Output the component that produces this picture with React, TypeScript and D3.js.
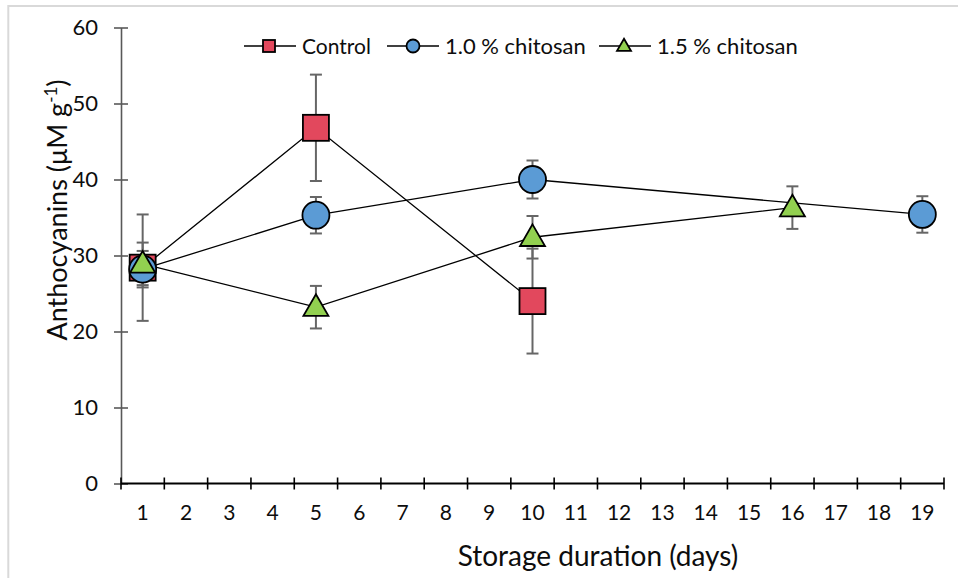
import React from "react";
import { scaleBand, scaleLinear, axisLeft, axisBottom, select, line, symbol, symbolTriangle } from "d3";

const days = ["1", "2", "3", "4", "5", "6", "7", "8", "9", "10", "11", "12", "13", "14", "15", "16", "17", "18", "19"];
const yTicks = [0, 10, 20, 30, 40, 50, 60];

const controlDays = ["1", "5", "10"];
const controlValues = [28.4, 46.8, 24.0];
const controlErrors = [7.0, 7.0, 6.9];

const chitosan10Days = ["1", "5", "10", "19"];
const chitosan10Values = [28.2, 35.3, 40.0, 35.4];
const chitosan10Errors = [2.4, 2.4, 2.5, 2.4];

const chitosan15Days = ["1", "5", "10", "16"];
const chitosan15Values = [28.9, 23.2, 32.4, 36.3];
const chitosan15Errors = [2.8, 2.8, 2.8, 2.8];

const FONT = "Lato, 'Open Sans', sans-serif";
const TEXT = "#0d0d0d";

const series = [
  { name: "Control", days: controlDays, values: controlValues, errors: controlErrors, color: "#E2485D", shape: "square" },
  { name: "1.0 % chitosan", days: chitosan10Days, values: chitosan10Values, errors: chitosan10Errors, color: "#5B9BD5", shape: "circle" },
  { name: "1.5 % chitosan", days: chitosan15Days, values: chitosan15Values, errors: chitosan15Errors, color: "#92D050", shape: "triangle" },
];

function Marker({ shape, x, y, size, color }) {
  if (shape === "square") {
    return <rect x={x - size / 2} y={y - size / 2} width={size} height={size} fill={color} stroke="#000" strokeWidth={1.8} />;
  }
  if (shape === "circle") {
    return <circle cx={x} cy={y} r={size / 2 + 0.5} fill={color} stroke="#000" strokeWidth={1.8} />;
  }
  // triangle: d3 symbol area for an equilateral-ish triangle of given width
  const area = (Math.sqrt(3) / 4) * size * size;
  const path = symbol(symbolTriangle, area)();
  return <path d={path} transform={`translate(${x}, ${y + size * 0.06})`} fill={color} stroke="#000" strokeWidth={1.8} strokeLinejoin="miter" />;
}

export default function App() {
  const width = 958;
  const height = 578;

  const x = scaleBand().domain(days).range([121, 944]).paddingInner(0).paddingOuter(0);
  const y = scaleLinear().domain([0, 60]).range([483.5, 27.5]);
  const cx = (d) => x(d) + x.bandwidth() / 2;

  const lineGen = line()
    .x((d) => cx(d[0]))
    .y((d) => y(d[1]));

  const yAxisRef = (el) => {
    if (!el) return;
    const g = select(el);
    g.call(axisLeft(y).tickValues(yTicks).tickSize(7).tickPadding(16).tickSizeOuter(0));
    g.select(".domain").attr("stroke", "#595959").attr("stroke-width", 1.6);
    g.selectAll(".tick line").attr("x1", 7).attr("x2", -7).attr("stroke", "#595959").attr("stroke-width", 1.6);
    g.selectAll(".tick text").attr("font-family", FONT).attr("font-size", 22).attr("fill", TEXT).attr("dy", "0.34em");
  };

  const xAxisRef = (el) => {
    if (!el) return;
    const g = select(el);
    g.call(axisBottom(x).tickSize(0).tickPadding(22).tickSizeOuter(0));
    g.select(".domain").remove();
    g.selectAll(".tick text").attr("font-family", FONT).attr("font-size", 21).attr("fill", TEXT);
  };

  const boundaries = days.map((d) => x(d)).concat([x(days[days.length - 1]) + x.bandwidth()]);

  const legendItems = [
    { x0: 244, x1: 296, mx: 269, tx: 302, fs: 21 },
    { x0: 387, x1: 439, mx: 413, tx: 445, fs: 22 },
    { x0: 599, x1: 651, mx: 624, tx: 657, fs: 22 },
  ];
  const legendY = 46;

  return (
    <svg width={width} height={height} style={{ position: "absolute", left: 0, top: 0, background: "#fff" }}>
      <rect x={8.3} y={6} width={1000} height={700} fill="#fff" stroke="#d9d9d9" strokeWidth={2} />

      {/* y axis */}
      <g ref={yAxisRef} transform="translate(121, 0)" />

      {/* x axis line and boundary ticks */}
      <g ref={xAxisRef} transform={`translate(0, ${y(0)})`} />
      <line x1={121} x2={boundaries[boundaries.length - 1]} y1={y(0)} y2={y(0)} stroke="#000" strokeWidth={2.2} />
      {boundaries.map((b, i) => (
        <line key={i} x1={b} x2={b} y1={y(0) - 6} y2={y(0) + 6} stroke="#000" strokeWidth={1.6} />
      ))}

      {/* series lines */}
      {series.map((s) => (
        <path key={s.name} d={lineGen(s.days.map((d, i) => [d, s.values[i]]))} fill="none" stroke="#000" strokeWidth={1.3} />
      ))}

      {/* error bars */}
      {series.map((s) =>
        s.days.map((d, i) => {
          const px = cx(d);
          const top = y(s.values[i] + s.errors[i]);
          const bot = y(s.values[i] - s.errors[i]);
          return (
            <g key={s.name + d} stroke="#666" strokeWidth={2}>
              <line x1={px} x2={px} y1={top} y2={bot} />
              <line x1={px - 6} x2={px + 6} y1={top} y2={top} />
              <line x1={px - 6} x2={px + 6} y1={bot} y2={bot} />
            </g>
          );
        })
      )}

      {/* markers */}
      {series.map((s) =>
        s.days.map((d, i) => (
          <Marker key={s.name + d} shape={s.shape} x={cx(d)} y={y(s.values[i])} size={s.shape === "triangle" ? 25 : 26} color={s.color} />
        ))
      )}

      {/* legend */}
      {series.map((s, i) => {
        const it = legendItems[i];
        return (
          <g key={s.name}>
            <line x1={it.x0} x2={it.x1} y1={legendY} y2={legendY} stroke="#000" strokeWidth={1.3} />
            <Marker shape={s.shape} x={it.mx} y={legendY} size={s.shape === "triangle" ? 14 : 12} color={s.color} />
            <text x={it.tx} y={legendY + 7.5} fontFamily={FONT} fontSize={it.fs} fill={TEXT}>
              {s.name}
            </text>
          </g>
        );
      })}

      {/* axis titles */}
      <text x={598} y={566} textAnchor="middle" fontFamily={FONT} fontSize={28} fill={TEXT}>
        Storage duration (days)
      </text>
      <text transform="translate(67, 210) rotate(-90)" textAnchor="middle" fontFamily={FONT} fontSize={27} fill={TEXT}>
        Anthocyanins (μM g<tspan dy={-10} fontSize={17}>-1</tspan>
        <tspan dy={10}>)</tspan>
      </text>
    </svg>
  );
}
